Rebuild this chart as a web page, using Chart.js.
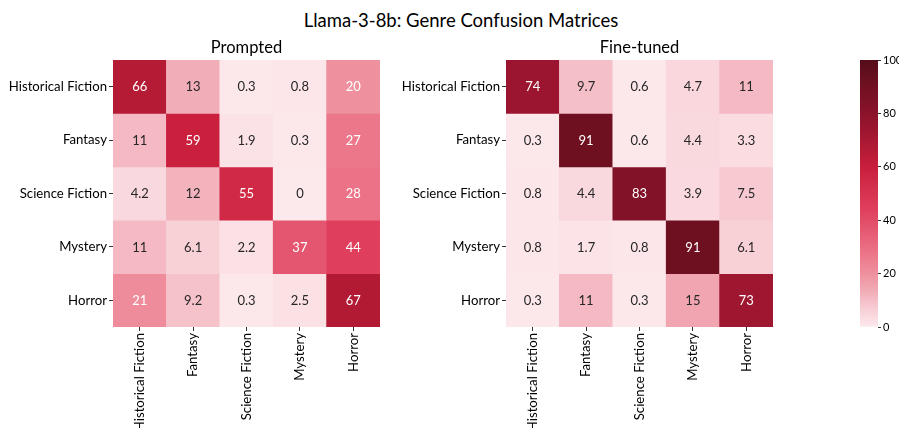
<!DOCTYPE html>
<html>
<head>
<meta charset="utf-8">
<script src="https://cdn.jsdelivr.net/npm/chart.js@4.4.1/dist/chart.umd.min.js"></script>
<style>
html,body{margin:0;padding:0;background:#fff;}
body{width:899px;height:428px;overflow:hidden;position:relative;font-family:Lato,sans-serif;}
#suptitle{position:absolute;left:0;top:9.5px;width:922px;text-align:center;font-family:Lato,sans-serif;font-size:18.5px;line-height:20px;color:#000;white-space:nowrap;}
canvas{position:absolute;top:0;}
#c1{left:0;}
#c2{left:400px;}
#c3{left:840px;}
</style>
</head>
<body>
<div id="suptitle">Llama-3-8b: Genre Confusion Matrices</div>
<canvas id="c1" width="400" height="428"></canvas>
<canvas id="c2" width="393" height="428"></canvas>
<canvas id="c3" width="59" height="428"></canvas>
<script>
// ---- data ----
const genres = ["Historical Fiction", "Fantasy", "Science Fiction", "Mystery", "Horror"];
const promptedTitle = "Prompted";
const finetunedTitle = "Fine-tuned";
const prompted = [
  [66, 13, 0.3, 0.8, 20],
  [11, 59, 1.9, 0.3, 27],
  [4.2, 12, 55, 0, 28],
  [11, 6.1, 2.2, 37, 44],
  [21, 9.2, 0.3, 2.5, 67]
];
const finetuned = [
  [74, 9.7, 0.6, 4.7, 11],
  [0.3, 91, 0.6, 4.4, 3.3],
  [0.8, 4.4, 83, 3.9, 7.5],
  [0.8, 1.7, 0.8, 91, 6.1],
  [0.3, 11, 0.3, 15, 73]
];
const colorbarRange = [0, 100];
const colorbarTicks = [0, 20, 40, 60, 80, 100];

// ---- colormap ----
const cmapStops = [
  [0, [252,233,236]],
  [5, [249,214,220]],
  [10, [245,190,199]],
  [13, [242,174,184]],
  [20, [238,144,158]],
  [28, [236,115,135]],
  [37, [228,86,111]],
  [44, [223,63,93]],
  [55, [208,41,69]],
  [60, [200,30,60]],
  [66, [181,27,53]],
  [74, [156,21,48]],
  [83, [130,18,40]],
  [91, [110,16,32]],
  [100, [85,12,26]]
];
function colorFor(v){
  for(let i=1;i<cmapStops.length;i++){
    const [v1,c1]=cmapStops[i-1],[v2,c2]=cmapStops[i];
    if(v<=v2){
      const t=(v-v1)/(v2-v1);
      const c=c1.map((a,k)=>Math.round(a+(c2[k]-a)*t));
      return `rgb(${c[0]},${c[1]},${c[2]})`;
    }
  }
  const c=cmapStops[cmapStops.length-1][1];
  return `rgb(${c[0]},${c[1]},${c[2]})`;
}

const FONT = "Lato";
const tickColor = "#333333";
const TICK_SIZE = 13.2;

function heatConfig(matrix, title, yWidth, padRight){
  const datasets = genres.map((g, i) => ({
    label: g,
    data: genres.map(() => [i, i + 1]),
    backgroundColor: matrix[i].map(v => colorFor(v)),
    borderWidth: 0,
    barPercentage: 1,
    categoryPercentage: 1,
    grouped: false
  }));
  const annot = {
    id: 'annot',
    afterDatasetsDraw(chart){
      const ctx = chart.ctx;
      ctx.save();
      ctx.font = `13px ${FONT}`;
      ctx.textAlign = 'center';
      ctx.textBaseline = 'middle';
      chart.data.datasets.forEach((ds, i) => {
        const meta = chart.getDatasetMeta(i);
        meta.data.forEach((el, j) => {
          const v = matrix[i][j];
          const p = el.getProps(['x','y','base'], true);
          ctx.fillStyle = v > 17 ? '#ffffff' : '#262626';
          ctx.fillText(String(v), p.x, (p.y + p.base) / 2 + 0.5);
        });
      });
      ctx.restore();
    },
    afterDraw(chart){
      const ca = chart.chartArea;
      const ctx = chart.ctx;
      ctx.save();
      ctx.font = `16.5px ${FONT}`;
      ctx.fillStyle = '#000';
      ctx.textAlign = 'center';
      ctx.textBaseline = 'alphabetic';
      ctx.fillText(title, (ca.left + ca.right) / 2, 52.5);
      ctx.restore();
    }
  };
  return {
    type: 'bar',
    data: { labels: genres, datasets },
    options: {
      responsive: false,
      animation: false,
      events: [],
      layout: { padding: { top: 60, right: padRight, left: 0, bottom: 0 } },
      plugins: { legend: { display: false }, tooltip: { enabled: false }, title: { display: false } },
      scales: {
        x: {
          type: 'category',
          grid: { display: true, offset: false, drawOnChartArea: false, drawTicks: true, tickLength: 4, color: tickColor, tickWidth: 1 },
          border: { display: false },
          ticks: { maxRotation: 90, minRotation: 90, autoSkip: false, font: { family: FONT, size: TICK_SIZE }, color: '#000', padding: 2 },
          afterFit(s){ s.height = 101; }
        },
        y: {
          type: 'linear', min: 0, max: 5, reverse: true,
          grid: { display: true, drawOnChartArea: false, drawTicks: true, tickLength: 4, color: tickColor, tickWidth: 1 },
          border: { display: false },
          afterBuildTicks(s){ s.ticks = genres.map((g, i) => ({ value: i + 0.5 })); },
          ticks: { autoSkip: false, font: { family: FONT, size: TICK_SIZE }, color: '#000', padding: 2,
                   callback: (v) => genres[Math.floor(v)] },
          afterFit(s){ s.width = yWidth; }
        }
      }
    },
    plugins: [annot]
  };
}

new Chart(document.getElementById('c1'), heatConfig(prompted, promptedTitle, 113, 20));
new Chart(document.getElementById('c2'), heatConfig(finetuned, finetunedTitle, 106, 20));

// ---- colorbar ----
new Chart(document.getElementById('c3'), {
  type: 'bar',
  data: {
    labels: [''],
    datasets: [{
      data: [colorbarRange],
      borderWidth: 0,
      barPercentage: 1,
      categoryPercentage: 1,
      backgroundColor(ctx){
        const ca = ctx.chart.chartArea;
        if(!ca) return colorFor(50);
        const g = ctx.chart.ctx.createLinearGradient(0, ca.bottom, 0, ca.top);
        for(let v = 0; v <= 100; v += 2){ g.addColorStop(v / 100, colorFor(v)); }
        return g;
      }
    }]
  },
  options: {
    responsive: false,
    animation: false,
    events: [],
    layout: { padding: { top: 60, bottom: 101, left: 20, right: 0 } },
    plugins: { legend: { display: false }, tooltip: { enabled: false } },
    scales: {
      x: { display: false },
      y: {
        position: 'right', min: colorbarRange[0], max: colorbarRange[1],
        afterBuildTicks(s){ s.ticks = colorbarTicks.map(v => ({ value: v })); },
        grid: { display: true, drawOnChartArea: false, drawTicks: true, tickLength: 3, color: tickColor },
        border: { display: false },
        ticks: { font: { family: FONT, size: 11 }, color: '#000', padding: 2 },
        afterFit(s){ s.width = 21; }
      }
    }
  }
});
</script>
</body>
</html>
